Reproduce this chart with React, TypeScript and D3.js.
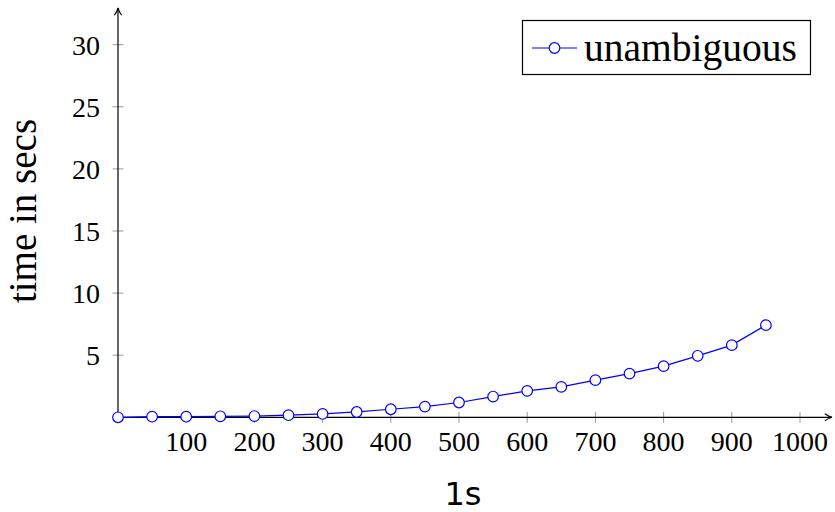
import { useEffect } from "react";
import { scaleLinear, line } from "d3";

const sizes = [0, 50, 100, 150, 200, 250, 300, 350, 400, 450, 500, 550, 600, 650, 700, 750, 800, 850, 900, 950];
const times = [0, 0.05, 0.05, 0.08, 0.1, 0.17, 0.27, 0.43, 0.65, 0.86, 1.19, 1.67, 2.13, 2.45, 2.99, 3.52, 4.12, 4.95, 5.81, 7.42];
const xTicks = [100, 200, 300, 400, 500, 600, 700, 800, 900, 1000];
const yTicks = [5, 10, 15, 20, 25, 30];
const seriesName = "unambiguous";
const xLabel = "1s";
const yLabel = "time in secs";

const W = 835;
const H = 512;
const BLUE = "#0000ff";
const SERIF = "'Liberation Serif', 'DejaVu Serif', serif";

export default function App() {
  useEffect(() => {
    document.body.style.margin = "0";
  }, []);

  const x = scaleLinear().domain([0, 1000]).range([118, 800]);
  const y = scaleLinear().domain([0, 30]).range([417.3, 44.7]);

  const pts = sizes.map((s, i) => [s, times[i]] as [number, number]);
  const path = line<[number, number]>()
    .x((d) => x(d[0]))
    .y((d) => y(d[1]));

  const x0 = x(0);
  const y0 = y(0);

  return (
    <svg width={W} height={H} style={{ display: "block" }}>
      <defs>
        <marker id="arr" viewBox="0 0 10 10" refX="9" refY="5" markerWidth="9" markerHeight="9" orient="auto" markerUnits="userSpaceOnUse">
          <path d="M1,1 Q5,4 9,5 Q5,6 1,9" fill="none" stroke="#000" strokeWidth={1.2} />
        </marker>
      </defs>

      {/* tick marks */}
      {xTicks.map((t) => (
        <line key={"xt" + t} x1={x(t)} x2={x(t)} y1={y0 - 5.5} y2={y0 + 5.5} stroke="#999" strokeWidth={1} />
      ))}
      {yTicks.map((t) => (
        <line key={"yt" + t} x1={x0 - 5.5} x2={x0 + 5.5} y1={y(t)} y2={y(t)} stroke="#999" strokeWidth={1} />
      ))}

      {/* axes */}
      <line x1={x0} y1={y0} x2={832} y2={y0} stroke="#000" strokeWidth={1.2} markerEnd="url(#arr)" />
      <line x1={x0} y1={y0} x2={x0} y2={8} stroke="#000" strokeWidth={1.2} markerEnd="url(#arr)" />

      {/* tick labels */}
      <g fontFamily={SERIF} fontSize={28} fill="#000" style={{ fontVariantNumeric: "oldstyle-nums" }}>
        {xTicks.map((t) => (
          <text key={"xl" + t} x={x(t)} y={451} textAnchor="middle">
            {t}
          </text>
        ))}
        {yTicks.map((t) => (
          <text key={"yl" + t} x={100} y={y(t)} dy="0.35em" textAnchor="end">
            {t}
          </text>
        ))}
      </g>

      {/* series */}
      <path d={path(pts) ?? undefined} fill="none" stroke={BLUE} strokeWidth={1.2} />
      {pts.map((d, i) => (
        <circle key={i} cx={x(d[0])} cy={y(d[1])} r={5.3} fill="#fff" stroke={BLUE} strokeWidth={1.2} />
      ))}

      {/* axis labels */}
      <text x={463} y={505} textAnchor="middle" fontFamily="'DejaVu Sans', sans-serif" fontSize={32} fill="#000">
        {xLabel}
      </text>
      <text
        transform={`translate(36, 211) rotate(-90)`}
        textAnchor="middle"
        fontFamily={SERIF}
        fontSize={39}
        fill="#000"
      >
        {yLabel}
      </text>

      {/* legend */}
      <rect x={522.5} y={20.5} width={288} height={54} fill="#fff" stroke="#000" strokeWidth={1.2} />
      <line x1={532} x2={577} y1={48} y2={48} stroke={BLUE} strokeWidth={1.2} />
      <circle cx={554.5} cy={48} r={5.3} fill="#fff" stroke={BLUE} strokeWidth={1.2} />
      <text x={584} y={61} fontFamily={SERIF} fontSize={39.5} fill="#000">
        {seriesName}
      </text>
    </svg>
  );
}
